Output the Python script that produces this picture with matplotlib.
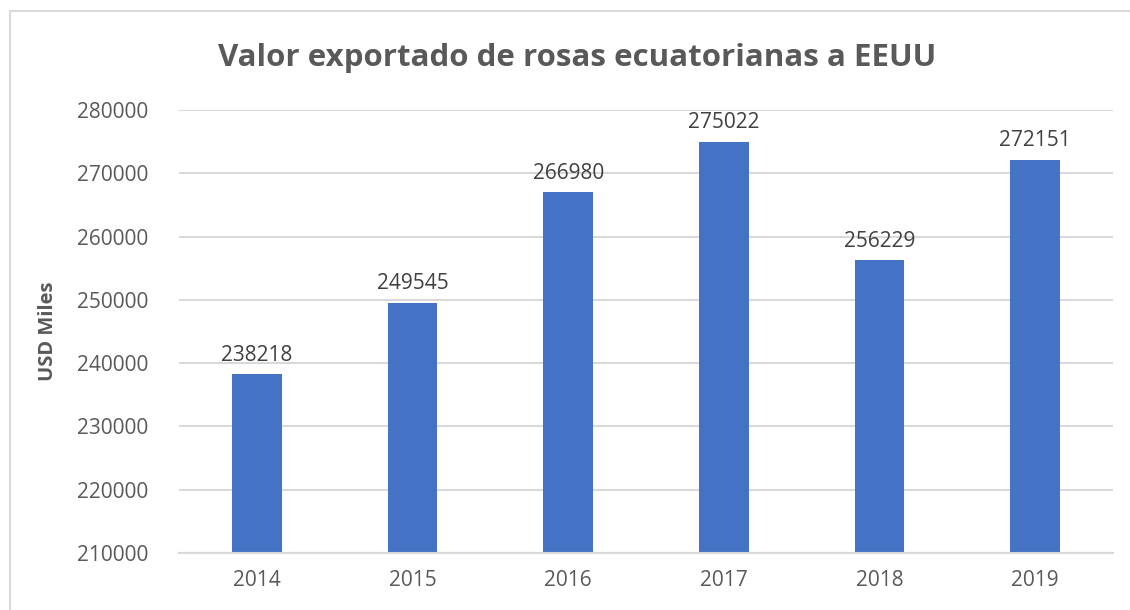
import matplotlib.pyplot as plt
from matplotlib.patches import Rectangle

# Datos del gráfico
anios = ['2014', '2015', '2016', '2017', '2018', '2019']
valores = [238218, 249545, 266980, 275022, 256229, 272151]
ticks_y = [210000, 220000, 230000, 240000, 250000, 260000, 270000, 280000]

plt.rcParams['font.family'] = ['Open Sans', 'DejaVu Sans']

fig = plt.figure(figsize=(11.3, 6.1), dpi=100)
ax = fig.add_axes([179 / 1130, 57 / 610, (1113 - 179) / 1130, (553 - 110) / 610])

# Borde del área del gráfico (estilo Excel)
borde = Rectangle((10 / 1130, -0.05), 1.1, 1 - 11 / 610 + 0.05, transform=fig.transFigure,
                  fill=False, edgecolor='#d9d9d9', linewidth=1.5, zorder=0)
fig.patches.append(borde)

x = range(len(anios))
barras = ax.bar(x, valores, width=0.32, color='#4472c4', zorder=2)

# Etiquetas de datos
for xi, v in zip(x, valores):
    ax.text(xi, v + 1400, str(v), ha='center', va='bottom', fontsize=15, color='#404040')

ax.set_xlim(-0.5, len(anios) - 0.5)
ax.set_ylim(210000, 280000)
ax.set_yticks(ticks_y)
ax.set_yticklabels([str(t) for t in ticks_y])
ax.set_xticks(list(x))
ax.set_xticklabels(anios)
ax.tick_params(axis='both', length=0, labelsize=15, labelcolor='#595959')
ax.tick_params(axis='y', pad=22)
ax.tick_params(axis='x', pad=12)

ax.grid(axis='y', color='#d9d9d9', linewidth=1.5, zorder=0)
for lado in ['top', 'right', 'left']:
    ax.spines[lado].set_visible(False)
ax.spines['bottom'].set_color('#d9d9d9')
ax.spines['bottom'].set_linewidth(1.5)

ax.set_ylabel('USD Miles', fontsize=14.5, fontweight='bold', color='#595959', labelpad=14)
fig.text(577 / 1130, 1 - 58 / 610, 'Valor exportado de rosas ecuatorianas a EEUU',
         ha='center', va='center', fontsize=22.5, fontweight='bold', color='#595959')

fig.savefig('out.png', dpi=100)
